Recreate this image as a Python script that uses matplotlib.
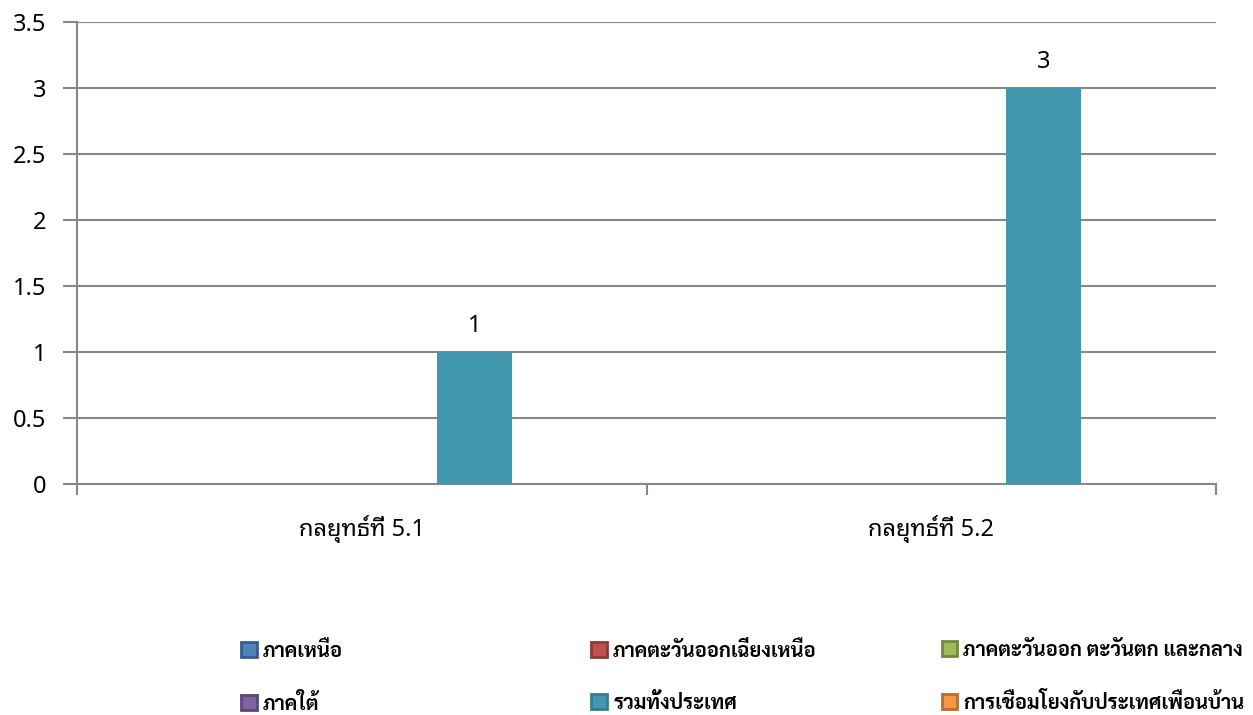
import numpy as np
import matplotlib
matplotlib.use("Agg")
import matplotlib.pyplot as plt
from matplotlib.patches import Patch

categories = ["กลยุทธ์ที่ 5.1", "กลยุทธ์ที่ 5.2"]
series_names = ["ภาคเหนือ", "ภาคตะวันออกเฉียงเหนือ", "ภาคตะวันออก ตะวันตก และกลาง",
                "ภาคใต้", "รวมทั้งประเทศ", "การเชื่อมโยงกับประเทศเพื่อนบ้าน"]
north = [0, 0]
northeast = [0, 0]
east_west_central = [0, 0]
south = [0, 0]
whole_country = [1, 3]
neighbours = [0, 0]
series_values = [north, northeast, east_west_central, south, whole_country, neighbours]
yticks = [0, 0.5, 1, 1.5, 2, 2.5, 3, 3.5]

face_colors = ["#4F81BD", "#C0504D", "#9BBB59", "#8064A2", "#4198AF", "#F79646"]
edge_colors = ["#385D8A", "#8C3836", "#71893F", "#5C4776", "#357D91", "#B66D31"]

axis_font = ["Noto Sans Thai Looped", "DejaVu Sans"]
legend_font = ["Sarabun", "DejaVu Sans"]

fig = plt.figure(figsize=(12.53, 7.15), dpi=100)
ax = fig.add_axes([0.0615, 0.3231, 0.9090, 0.6461])

x = np.arange(len(categories))
w = 75 / 569
for i, vals in enumerate(series_values):
    bars = ax.bar(x + (i - 2.5) * w, vals, width=w, color=face_colors[i], zorder=3)
    if i == 4:
        ax.bar_label(bars, labels=[str(v) for v in vals], padding=10,
                     fontsize=17, family=axis_font)

ax.set_xlim(-0.5, 1.5)
ax.set_ylim(0, 3.5)
ax.set_yticks(yticks)
ax.set_yticklabels(["0" if v == 0 else ("%g" % v) for v in yticks],
                   fontsize=17, family=axis_font)
ax.yaxis.grid(True, color="#878787", linewidth=1.5, zorder=0)
ax.tick_params(axis="y", length=10, width=1.5, color="#878787", pad=12)

# category labels between boundary ticks
ax.set_xticks([-0.5, 0.5, 1.5])
ax.set_xticklabels([])
ax.set_xticks(x, minor=True)
ax.set_xticklabels(categories, minor=True, fontsize=17, family=axis_font)
ax.tick_params(axis="x", which="major", length=8, width=1.5, color="#878787")
ax.tick_params(axis="x", which="minor", length=0, pad=22)

for side in ["top", "right"]:
    ax.spines[side].set_visible(False)
for side in ["left", "bottom"]:
    ax.spines[side].set_color("#878787")
    ax.spines[side].set_linewidth(1.5)

# legend in three columns, two rows each, read across rows
col_x = [0.1925, 0.472, 0.7515]
for c in range(3):
    idx = [c, c + 3]
    handles = [Patch(facecolor=face_colors[k], edgecolor=edge_colors[k], linewidth=2)
               for k in idx]
    fig.legend(handles, [series_names[k] for k in idx], loc="upper left",
               bbox_to_anchor=(col_x[c], 0.104), bbox_transform=fig.transFigure,
               frameon=False, handlelength=0.78, handleheight=0.78, handletextpad=0.3,
               labelspacing=1.6, borderaxespad=0, borderpad=0,
               prop={"family": legend_font, "size": 14.5, "weight": "bold"})

fig.savefig("out.png")
